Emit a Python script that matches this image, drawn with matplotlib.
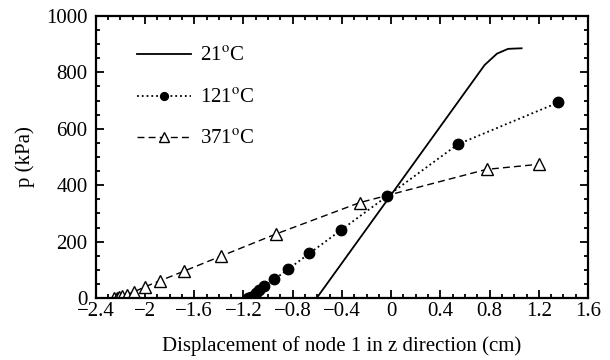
import numpy as np
import matplotlib.pyplot as plt
from matplotlib.ticker import MultipleLocator, FuncFormatter

plt.rcParams['font.family'] = ['Liberation Serif', 'DejaVu Serif']
plt.rcParams['mathtext.fontset'] = 'stix'

# 21 C
x21 = [-0.605, 0.76, 0.86, 0.95, 1.0, 1.06]
p21 = [0, 826, 866, 883, 884, 885]

# 121 C
x121 = [-1.16, -1.14, -1.1, -1.07, -1.03, -0.95, -0.835, -0.665, -0.41, -0.03, 0.543, 1.358]
p121 = [0, 5, 17, 28, 44, 66, 103, 158, 240, 362, 545, 693]

# 371 C
x371 = [-2.25, -2.23, -2.21, -2.19, -2.15, -2.09, -2.0, -1.88, -1.68, -1.38, -0.936, -0.257, 0.775, 1.2]
p371 = [0, 2, 4, 7, 12, 22, 40, 61, 96, 149, 227, 338, 456, 474]

labels = ['21$^{\\mathrm{o}}$C', '121$^{\\mathrm{o}}$C', '371$^{\\mathrm{o}}$C']

fig = plt.figure(figsize=(6.1, 3.6), dpi=100)
ax = fig.add_axes([0.157, 0.172, 0.807, 0.784])

ax.plot(x21, p21, color='black', lw=1.3, label=labels[0])
ax.plot(x121, p121, color='black', lw=1.3, ls=':', marker='o', ms=7.5,
        mfc='black', mec='black', label=labels[1])
ax.plot(x371, p371, color='black', lw=1.0, dashes=(5, 3), marker='^', ms=9,
        mfc='white', mec='black', mew=1.0, label=labels[2])

ax.set_xlim(-2.4, 1.6)
ax.set_ylim(0, 1000)
ax.xaxis.set_major_locator(MultipleLocator(0.4))
ax.xaxis.set_minor_locator(MultipleLocator(0.1))
ax.yaxis.set_major_locator(MultipleLocator(200))
ax.yaxis.set_minor_locator(MultipleLocator(50))
ax.xaxis.set_major_formatter(FuncFormatter(lambda v, pos: ('%g' % round(v, 2)).replace('-', '\u2212')))
ax.yaxis.set_major_formatter(FuncFormatter(lambda v, pos: '%g' % v))

ax.tick_params(which='both', direction='in', top=True, right=True, labelsize=15, width=1.3)
ax.tick_params(which='major', length=6)
ax.tick_params(which='minor', length=3)
ax.tick_params(axis='x', which='major', pad=3)
ax.tick_params(axis='y', which='major', pad=6)
for s in ax.spines.values():
    s.set_linewidth(1.6)

ax.set_xlabel('Displacement of node 1 in z direction (cm)', fontsize=15, labelpad=11)
ax.set_ylabel('p (kPa)', fontsize=15, labelpad=8)

ax.legend(loc='upper left', bbox_to_anchor=(0.083, 0.89), frameon=False, fontsize=15,
          handlelength=2.6, handletextpad=0.45, labelspacing=1.05, borderpad=0,
          borderaxespad=0, markerscale=0.75)

fig.savefig('out.png', dpi=100)
